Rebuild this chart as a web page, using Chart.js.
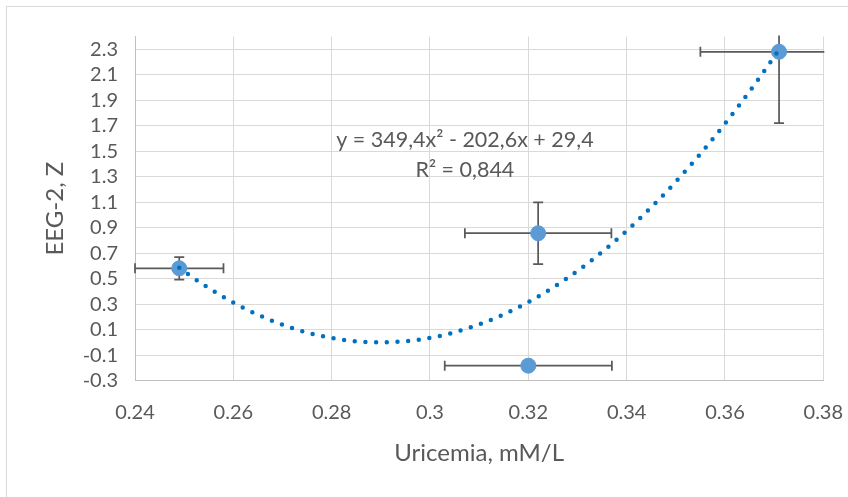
<!DOCTYPE html>
<html>
<head>
<meta charset="utf-8">
<title>EEG-2 vs Uricemia</title>
<script src="https://cdn.jsdelivr.net/npm/chart.js@4/dist/chart.umd.min.js"></script>
<style>
    body { margin: 0; background: #fff; }
    canvas { display: block; }
</style>
</head>
<body>
<canvas id="eegChart" width="848" height="497"></canvas>
<script>
// values
const uricemia = [0.249, 0.322, 0.320, 0.371];
const eeg = [0.582, 0.857, -0.182, 2.281];
const uricemiaErr = [0.009, 0.0149, 0.017, 0.016];
const eegErr = [0.088, 0.242, 0, 0.56];
// trendline shown on the chart: y = 349,4x² - 202,6x + 29,4 (constant within its rounding)
const trendCoef = [29.37, -202.6, 349.4];
const equationLines = ['y = 349,4x\u00B2 - 202,6x + 29,4', 'R\u00B2 = 0,844'];

const xTicks = [0.24, 0.26, 0.28, 0.3, 0.32, 0.34, 0.36, 0.38];
const xTickLabels = ['0.24', '0.26', '0.28', '0.3', '0.32', '0.34', '0.36', '0.38'];
const yTicks = [-0.3, -0.1, 0.1, 0.3, 0.5, 0.7, 0.9, 1.1, 1.3, 1.5, 1.7, 1.9, 2.1, 2.3];
const yTickLabels = ['-0.3', '-0.1', '0.1', '0.3', '0.5', '0.7', '0.9', '1.1', '1.3', '1.5', '1.7', '1.9', '2.1', '2.3'];

const FONT = 'Lato';
const TEXT = '#595959';

const points = uricemia.map((x, i) => ({ x: x, y: eeg[i] }));

// trendline over the data range, evaluated from the coefficients above
const trendPoints = [];
const xFrom = Math.min(...uricemia);
const xTo = Math.max(...uricemia);
for (let k = 0; k <= 200; k++) {
    const x = xFrom + (xTo - xFrom) * k / 200;
    trendPoints.push({ x: x, y: trendCoef[0] + trendCoef[1] * x + trendCoef[2] * x * x });
}

const framePlugin = {
    id: 'frame',
    beforeDraw(chart) {
        const ctx = chart.ctx;
        ctx.save();
        ctx.fillStyle = '#fff';
        ctx.fillRect(0, 0, chart.width, chart.height);
        ctx.strokeStyle = '#d9d9d9';
        ctx.lineWidth = 1;
        ctx.strokeRect(6.5, 6.5, chart.width + 20, chart.height + 20);
        ctx.restore();
    }
};

const errorBarPlugin = {
    id: 'errorBars',
    beforeDatasetsDraw(chart) {
        const ctx = chart.ctx;
        const xs = chart.scales.x;
        const ys = chart.scales.y;
        const area = chart.chartArea;
        const cap = 5;
        ctx.save();
        ctx.beginPath();
        ctx.rect(area.left - 1, area.top - 1, area.right - area.left + 2, area.bottom - area.top + 2);
        ctx.clip();
        ctx.strokeStyle = '#5a5a5a';
        ctx.lineWidth = 1.75;
        uricemia.forEach((x, i) => {
            const px = xs.getPixelForValue(x);
            const py = ys.getPixelForValue(eeg[i]);
            const xl = xs.getPixelForValue(x - uricemiaErr[i]);
            const xr = xs.getPixelForValue(x + uricemiaErr[i]);
            ctx.beginPath();
            ctx.moveTo(xl, py); ctx.lineTo(xr, py);
            ctx.moveTo(xl, py - cap); ctx.lineTo(xl, py + cap);
            ctx.moveTo(xr, py - cap); ctx.lineTo(xr, py + cap);
            if (eegErr[i] > 0) {
                const yt = ys.getPixelForValue(eeg[i] + eegErr[i]);
                const yb = ys.getPixelForValue(eeg[i] - eegErr[i]);
                ctx.moveTo(px, yt); ctx.lineTo(px, yb);
                ctx.moveTo(px - cap, yt); ctx.lineTo(px + cap, yt);
                ctx.moveTo(px - cap, yb); ctx.lineTo(px + cap, yb);
            }
            ctx.stroke();
        });
        ctx.restore();
    }
};

const equationPlugin = {
    id: 'equation',
    afterDatasetsDraw(chart) {
        const ctx = chart.ctx;
        const x = chart.scales.x.getPixelForValue(0.3071);
        const y1 = chart.scales.y.getPixelForValue(1.589);
        const y2 = chart.scales.y.getPixelForValue(1.349);
        ctx.save();
        ctx.font = '21.5px ' + FONT;
        ctx.fillStyle = TEXT;
        ctx.textAlign = 'center';
        ctx.textBaseline = 'middle';
        ctx.fillText(equationLines[0], x, y1);
        ctx.fillText(equationLines[1], x, y2);
        ctx.restore();
    }
};

new Chart(document.getElementById('eegChart'), {
    type: 'scatter',
    data: {
        datasets: [{
            label: 'Trend',
            data: trendPoints,
            showLine: true,
            borderColor: '#0070c0',
            borderWidth: 4.5,
            borderDash: [0, 10.7],
            borderCapStyle: 'round',
            pointRadius: 0,
            tension: 0,
            order: 0
        }, {
            label: 'EEG-2',
            data: points,
            backgroundColor: '#5b9bd5',
            borderColor: '#5b9bd5',
            pointRadius: 7.5,
            order: 1
        }]
    },
    options: {
        responsive: false,
        animation: false,
        layout: {
            padding: { top: 36.6, right: 24.7, bottom: 0, left: 0 }
        },
        plugins: {
            legend: { display: false },
            tooltip: { enabled: false }
        },
        scales: {
            x: {
                type: 'linear',
                min: 0.24,
                max: 0.38,
                afterBuildTicks: scale => { scale.ticks = xTicks.map(v => ({ value: v })); },
                afterFit: scale => {
                    scale.height = 116.3;
                    scale.paddingLeft = 0;
                    scale.paddingRight = 0;
                },
                grid: { color: '#d9d9d9', drawTicks: false },
                border: { color: '#bfbfbf' },
                ticks: {
                    autoSkip: false,
                    maxRotation: 0,
                    padding: 20,
                    color: TEXT,
                    font: { family: FONT, size: 20 },
                    callback: (value, index) => xTickLabels[index]
                },
                title: {
                    display: true,
                    text: 'Uricemia, mM/L',
                    color: TEXT,
                    font: { family: FONT, size: 24 },
                    padding: { top: 0, bottom: 29.6 }
                }
            },
            y: {
                type: 'linear',
                min: -0.3,
                max: 2.4,
                afterBuildTicks: scale => { scale.ticks = yTicks.map(v => ({ value: v })); },
                afterFit: scale => {
                    scale.width = 135;
                    scale.paddingTop = 0;
                    scale.paddingBottom = 0;
                },
                grid: { color: '#d9d9d9', drawTicks: false },
                border: { color: '#bfbfbf' },
                ticks: {
                    autoSkip: false,
                    padding: 17,
                    color: TEXT,
                    font: { family: FONT, size: 20 },
                    callback: (value, index) => yTickLabels[index]
                },
                title: {
                    display: true,
                    text: 'EEG-2, Z',
                    color: TEXT,
                    font: { family: FONT, size: 24 },
                    padding: { top: 40.6, bottom: 0 }
                }
            }
        }
    },
    plugins: [framePlugin, errorBarPlugin, equationPlugin]
});
</script>
</body>
</html>
